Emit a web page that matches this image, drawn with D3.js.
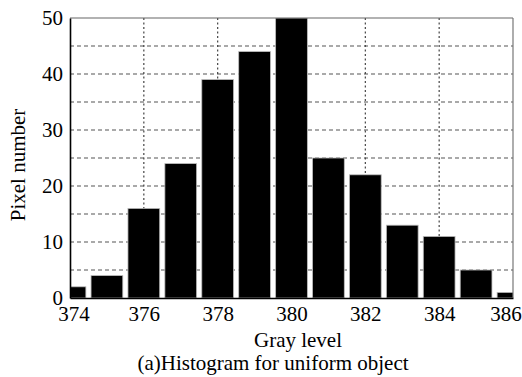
<!DOCTYPE html>
<html>
<head>
<meta charset="utf-8">
<script src="https://cdn.jsdelivr.net/npm/d3@7"></script>
<style>
  body { margin: 0; background: #fff; }
  svg text { font-family: "Liberation Serif", "DejaVu Serif", serif; fill: #000; }
</style>
</head>
<body>
<div id="chart"></div>
<script>
// Histogram of gray levels for a uniform object
const grayLevels = [374, 375, 376, 377, 378, 379, 380, 381, 382, 383, 384, 385, 386];
const pixelCounts = [2, 4, 16, 24, 39, 44, 50, 25, 22, 13, 11, 5, 1];
const xTicks = [374, 376, 378, 380, 382, 384, 386];
const yTicks = [0, 10, 20, 30, 40, 50];
const yGrid = [5, 10, 15, 20, 25, 30, 35, 40, 45];
const xGrid = [376, 378, 380, 382, 384];

const W = 522, H = 377;
const m = { left: 70, right: 9, top: 18, bottom: 79 };
const iw = W - m.left - m.right;
const ih = H - m.top - m.bottom;
const FS = '21px';

const svg = d3.select('#chart').append('svg')
  .attr('width', W).attr('height', H);

const x = d3.scaleLinear().domain([374, 386]).range([0, iw]);
const y = d3.scaleLinear().domain([0, 50]).range([ih, 0]);

svg.append('defs').append('clipPath').attr('id', 'plot-clip')
  .append('rect').attr('width', iw).attr('height', ih);

const g = svg.append('g').attr('transform', `translate(${m.left},${m.top})`);

// grid lines — dashed horizontals, dotted verticals
g.selectAll('.hgrid').data(yGrid).join('line')
  .attr('x1', 0).attr('x2', iw)
  .attr('y1', d => y(d)).attr('y2', d => y(d))
  .attr('stroke', '#555').attr('stroke-width', 1.2)
  .attr('stroke-dasharray', '4,3');

g.selectAll('.vgrid').data(xGrid).join('line')
  .attr('x1', d => x(d)).attr('x2', d => x(d))
  .attr('y1', 0).attr('y2', ih)
  .attr('stroke', '#444').attr('stroke-width', 1.2)
  .attr('stroke-dasharray', '2,2.5');

// bars, centred on each gray level, clipped at the axes
const bw = (x(375) - x(374)) * 0.86;
g.append('g').attr('clip-path', 'url(#plot-clip)')
  .selectAll('rect').data(grayLevels).join('rect')
  .attr('x', d => x(d) - bw / 2)
  .attr('width', bw)
  .attr('y', (d, i) => y(pixelCounts[i]))
  .attr('height', (d, i) => ih - y(pixelCounts[i]))
  .attr('fill', '#000')
  .attr('stroke', '#bbb').attr('stroke-width', 0.8);

// frame
g.append('line').attr('x1', 0).attr('x2', iw).attr('y1', 0).attr('y2', 0)
  .attr('stroke', '#666').attr('stroke-width', 1.2);
g.append('line').attr('x1', iw).attr('x2', iw).attr('y1', 0).attr('y2', ih)
  .attr('stroke', '#777').attr('stroke-width', 1.2);

// axes
const xAxis = g.append('g').attr('transform', `translate(0,${ih})`)
  .call(d3.axisBottom(x).tickValues(xTicks).tickSize(0).tickPadding(8).tickFormat(d3.format('d')));
const yAxis = g.append('g')
  .call(d3.axisLeft(y).tickValues(yTicks).tickSize(0).tickPadding(7));

[xAxis, yAxis].forEach(a => {
  a.select('.domain').attr('stroke', '#000').attr('stroke-width', 1.6);
  a.selectAll('text').style('font-size', FS).attr('fill', '#000')
    .style('font-family', '"Liberation Serif", serif');
});
// end labels nudged inward so they stay on the page
xAxis.selectAll('.tick text')
  .attr('dx', d => d === 374 ? 3.5 : d === 386 ? -7.5 : 0);

// labels
svg.append('text')
  .attr('x', 298).attr('y', 347)
  .attr('text-anchor', 'middle')
  .style('font-size', FS)
  .text('Gray level');

svg.append('text')
  .attr('x', 273).attr('y', 370)
  .attr('text-anchor', 'middle')
  .style('font-size', FS)
  .text('(a)Histogram for uniform object');

svg.append('text')
  .attr('transform', `translate(25,165) rotate(-90)`)
  .attr('text-anchor', 'middle')
  .style('font-size', FS)
  .text('Pixel number');
</script>
</body>
</html>
